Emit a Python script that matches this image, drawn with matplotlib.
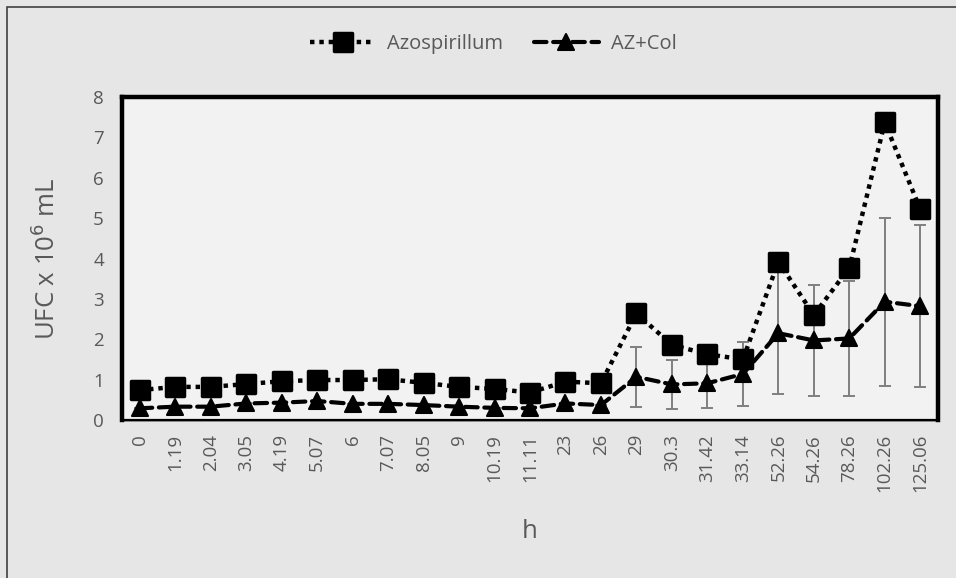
import numpy as np
import matplotlib.pyplot as plt
from matplotlib.patches import Rectangle
from matplotlib.markers import MarkerStyle

# sampling times (h) used as evenly spaced categories
hours = ['0', '1.19', '2.04', '3.05', '4.19', '5.07', '6', '7.07', '8.05', '9',
         '10.19', '11.11', '23', '26', '29', '30.3', '31.42', '33.14', '52.26',
         '54.26', '78.26', '102.26', '125.06']

azospirillum = [0.74, 0.82, 0.82, 0.89, 0.96, 0.99, 0.99, 1.01, 0.92, 0.82,
                0.77, 0.68, 0.95, 0.91, 2.64, 1.86, 1.63, 1.50, 3.92,
                2.60, 3.77, 7.37, 5.22]

az_col = [0.29, 0.33, 0.33, 0.41, 0.43, 0.47, 0.40, 0.40, 0.37, 0.33,
          0.30, 0.29, 0.41, 0.37, 1.07, 0.88, 0.91, 1.14, 2.15,
          1.97, 2.02, 2.93, 2.82]

az_col_err = [0, 0, 0, 0, 0, 0, 0, 0, 0, 0,
              0, 0, 0, 0, 0.74, 0.61, 0.62, 0.80, 1.51,
              1.37, 1.43, 2.08, 2.00]

plt.rcParams['font.family'] = ['Open Sans', 'DejaVu Sans']
grey_text = '#595959'

fig = plt.figure(figsize=(9.56, 5.78), dpi=100, facecolor='#e6e6e6')
fig.patches.append(Rectangle((7 / 956, -0.1), 1.2, (571 + 0.1 * 578) / 578,
                             transform=fig.transFigure, fill=False,
                             edgecolor='#404040', linewidth=1.2))

ax = fig.add_axes([122 / 956, 158 / 578, 816 / 956, 323 / 578])
ax.set_facecolor('#f2f2f2')

x = np.arange(len(hours))

ax.errorbar(x, az_col, yerr=az_col_err, fmt='none', ecolor='#7f7f7f',
            elinewidth=1.4, capsize=4, capthick=1.4, zorder=2)

# rounded squares and triangles
square = MarkerStyle('s', joinstyle='round')
triangle = MarkerStyle('^', joinstyle='round')

ax.plot(x, azospirillum, color='black', linewidth=3.2, linestyle=(0, (1, 1.1)),
        marker=square, markersize=13, markeredgewidth=2.5,
        markerfacecolor='black', markeredgecolor='black',
        label='Azospirillum', zorder=4)
ax.plot(x, az_col, color='black', linewidth=3, linestyle=(0, (3, 1.6)),
        dash_capstyle='round', marker=triangle, markersize=12,
        markeredgewidth=1.5, markerfacecolor='black', markeredgecolor='black',
        label='AZ+Col', zorder=3)

ax.set_xlim(-0.5, len(hours) - 0.5)
ax.set_ylim(0, 8)
ax.set_yticks(range(0, 9))
ax.set_xticks(x)
ax.set_xticklabels(hours, rotation=90)
ax.tick_params(axis='both', length=0, colors=grey_text, labelsize=13.5)
ax.tick_params(axis='x', pad=10)
ax.tick_params(axis='y', pad=13)

for side in ['left', 'top', 'right']:
    ax.spines[side].set_linewidth(3.2)
    ax.spines[side].set_color('black')
ax.spines['bottom'].set_linewidth(1.6)
ax.spines['bottom'].set_color('black')
ax.axhline(-0.03, color='#8c8c8c', linewidth=1.2, clip_on=False, zorder=1)

ax.set_ylabel('UFC x 10$^{6}$ mL', fontsize=18.5, color=grey_text, labelpad=23)
ax.set_xlabel('h', fontsize=18.5, color=grey_text, labelpad=19)

leg = fig.legend(loc='center', bbox_to_anchor=(493.5 / 956, 1 - 44 / 578),
                 ncol=2, frameon=False, fontsize=14.5, handlelength=3.2,
                 columnspacing=1.55, handletextpad=0.6)
for t in leg.get_texts():
    t.set_color(grey_text)

fig.savefig('out.png', dpi=100, facecolor=fig.get_facecolor())
